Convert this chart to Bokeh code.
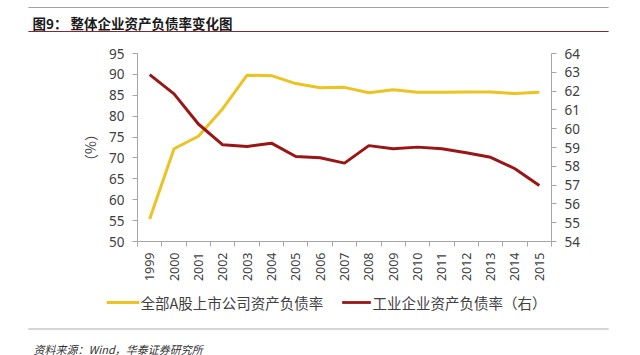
from bokeh.plotting import figure
from bokeh.models import Range1d, LinearAxis, FixedTicker, Label
from bokeh.embed import file_html
from bokeh.resources import INLINE

years = [1999, 2000, 2001, 2002, 2003, 2004, 2005, 2006, 2007, 2008,
         2009, 2010, 2011, 2012, 2013, 2014, 2015]
a_share = [55.4, 72.2, 75.2, 81.8, 89.8, 89.7, 87.8, 86.8, 86.9, 85.6,
           86.3, 85.7, 85.7, 85.8, 85.8, 85.4, 85.7]
industrial = [62.88, 61.85, 60.25, 59.14, 59.05, 59.23, 58.52, 58.45, 58.17, 59.10,
              58.93, 59.02, 58.93, 58.72, 58.48, 57.87, 56.98]
left_ticks = [50, 55, 60, 65, 70, 75, 80, 85, 90, 95]
right_ticks = [54, 55, 56, 57, 58, 59, 60, 61, 62, 63, 64]

title_text = "图9：  整体企业资产负债率变化图"
source_text = "资料来源：Wind，华泰证券研究所"
name_a = "全部A股上市公司资产负债率"
name_i = "工业企业资产负债率（右）"

YELLOW = "#ECC321"
RED = "#9A1515"
AXIS = "#A6A6A6"
TXT = "#404040"
CJK = "Noto Sans CJK SC"
NUM = "Noto Sans"

p = figure(width=640, height=355, output_backend="svg", toolbar_location=None,
           x_range=Range1d(years[0] - 0.5, years[-1] + 0.5),
           y_range=Range1d(left_ticks[0], left_ticks[-1]),
           min_border_left=137, min_border_right=89, min_border_top=53, min_border_bottom=114)
p.extra_y_ranges = {"right": Range1d(right_ticks[0], right_ticks[-1])}
p.outline_line_color = None
p.grid.visible = False

p.line(years, a_share, line_color=YELLOW, line_width=3)
p.line(years, industrial, line_color=RED, line_width=3, y_range_name="right")

xa = p.xaxis[0]
xa.ticker = FixedTicker(ticks=years, minor_ticks=[y - 0.5 for y in years] + [years[-1] + 0.5])
xa.major_label_overrides = {y: str(y) for y in years}
xa.major_label_orientation = 1.5708
xa.major_tick_out = 0
xa.major_tick_in = 0
xa.minor_tick_out = 5
xa.minor_tick_in = 0
xa.minor_tick_line_color = AXIS
xa.axis_line_color = AXIS
xa.major_label_text_font = NUM
xa.major_label_text_font_size = "12.5px"
xa.major_label_text_color = TXT
xa.major_label_standoff = 6

ya = p.yaxis[0]
ya.ticker = FixedTicker(ticks=left_ticks)
ya.major_tick_out = 5
ya.major_tick_in = 0
ya.minor_tick_out = 0
ya.minor_tick_in = 0
ya.axis_line_color = AXIS
ya.major_tick_line_color = AXIS
ya.major_label_text_font = NUM
ya.major_label_text_font_size = "13.5px"
ya.major_label_text_color = TXT
ya.major_label_standoff = 8
ya.axis_label = "（%）"
ya.axis_label_text_font = CJK
ya.axis_label_text_font_style = "normal"
ya.axis_label_text_font_size = "14px"
ya.axis_label_text_color = TXT
ya.axis_label_standoff = 6

ra = LinearAxis(y_range_name="right", ticker=FixedTicker(ticks=right_ticks))
ra.major_tick_out = 5
ra.major_tick_in = 0
ra.minor_tick_out = 0
ra.minor_tick_in = 0
ra.axis_line_color = AXIS
ra.major_tick_line_color = AXIS
ra.major_label_text_font = NUM
ra.major_label_text_font_size = "13.5px"
ra.major_label_text_color = TXT
ra.major_label_standoff = 8
p.add_layout(ra, "right")


def text_label(x, y, txt, size, color, style="normal", font=CJK):
    return Label(x=x, y=y, x_units="canvas", y_units="canvas", text=txt,
                 text_font=font, text_font_size=size, text_color=color,
                 text_font_style=style, text_baseline="middle", text_align="left")


def bar_label(x0, x1, y, size, color):
    half = int(round((x1 - x0) / 2))
    return Label(x=(x0 + x1) / 2, y=y, x_units="canvas", y_units="canvas", text=" ",
                 text_font_size=size, text_align="center", text_baseline="middle",
                 background_fill_color=color, background_fill_alpha=1,
                 padding={"left": half, "right": half, "top": 0, "bottom": 0})


# header (above panel)
p.add_layout(text_label(32, 22.5, title_text, "13.5px", "#1A1A1A", "bold"), "above")
p.add_layout(bar_label(28, 608, 7, "1px", "#A0A0A0"), "above")
p.add_layout(bar_label(28, 608, 31, "1px", "#7E2B33"), "above")
# legend line samples
p.add_layout(bar_label(107, 138, 302, "2.5px", YELLOW), "above")
p.add_layout(bar_label(342, 370, 302, "2.5px", RED), "above")

# legend texts, bottom rule, source (below panel)
p.add_layout(text_label(140, 302, name_a, "14.5px", TXT), "below")
p.add_layout(text_label(372, 302, name_i, "14.5px", TXT), "below")
p.add_layout(bar_label(28, 608, 328.5, "1.5px", "#C8C8C8"), "below")
p.add_layout(text_label(33, 348, source_text, "11px", "#333333", "italic"), "below")

open("out.html", "w").write(file_html(p, INLINE))
